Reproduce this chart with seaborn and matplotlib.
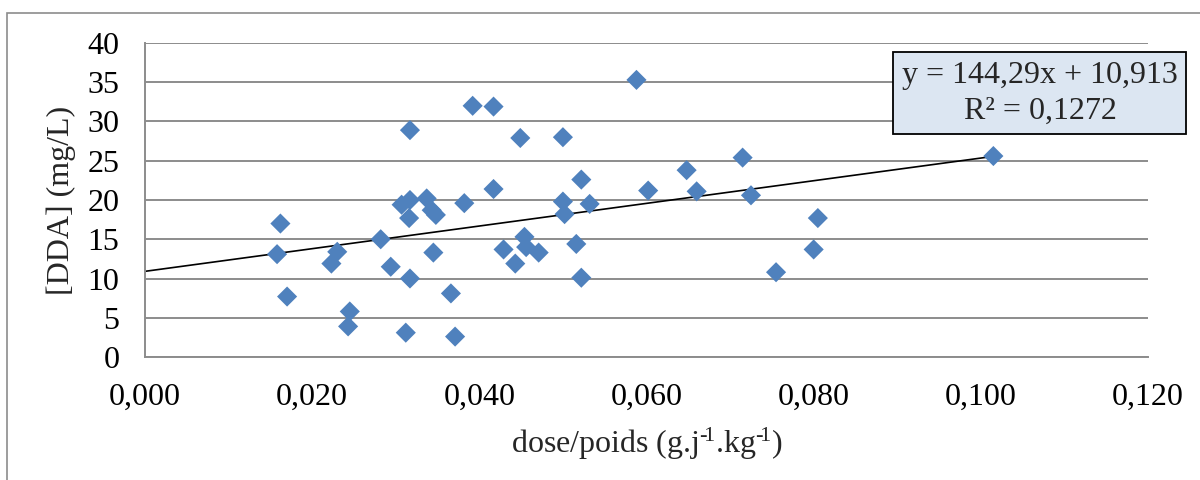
import numpy as np
import pandas as pd
import seaborn as sns
import matplotlib.pyplot as plt
from matplotlib.patches import Rectangle
from matplotlib.ticker import FuncFormatter, MultipleLocator

# values
dose = [0.0162, 0.0158, 0.0170, 0.0230, 0.0223, 0.0245, 0.0243, 0.0282,
        0.0294, 0.0317, 0.0317, 0.0307, 0.0316, 0.0317, 0.0312, 0.0337,
        0.0343, 0.0348, 0.0345, 0.0366, 0.0371, 0.0382, 0.0392, 0.0417,
        0.0417, 0.0429, 0.0443, 0.0449, 0.0454, 0.0456, 0.0471, 0.0500,
        0.0500, 0.0502, 0.0516, 0.0522, 0.0522, 0.0532, 0.0588, 0.0602,
        0.0648, 0.0660, 0.0715, 0.0725, 0.0805, 0.0800, 0.0755, 0.1015]
dda = [17.0, 13.1, 7.7, 13.4, 11.9, 5.8, 3.9, 15.0,
       11.5, 28.9, 20.0, 19.4, 17.7, 10.0, 3.1, 20.2,
       18.7, 18.1, 13.3, 8.1, 2.6, 19.6, 32.0, 31.9,
       21.4, 13.7, 11.9, 27.9, 15.3, 14.0, 13.3, 28.0,
       19.8, 18.2, 14.4, 22.6, 10.1, 19.5, 35.3, 21.2,
       23.8, 21.1, 25.4, 20.6, 17.7, 13.7, 10.8, 25.6]
slope = 144.29
intercept = 10.913
eq_text = "y = 144,29x + 10,913"
r2_text = "R² = 0,1272"

df = pd.DataFrame({"dose": dose, "dda": dda})
trend = pd.DataFrame({"dose": [0.0, max(dose)]})
trend["dda"] = slope * trend["dose"] + intercept

sns.set_style("white")
plt.rcParams["font.family"] = ["Liberation Serif", "DejaVu Serif"]
plt.rcParams["mathtext.default"] = "regular"

FS = 23
fig = plt.figure(figsize=(12, 4.8), dpi=100)
ax = fig.add_axes([145 / 1200, 1 - 357 / 480, 1003 / 1200, 314 / 480])

grid_col = "#8C8C8C"
ax.set_axisbelow(True)
ax.yaxis.grid(True, color=grid_col, linewidth=1.4)
ax.xaxis.grid(False)

sns.lineplot(data=trend, x="dose", y="dda", color="black", linewidth=1.2, ax=ax)
sns.scatterplot(data=df, x="dose", y="dda", marker="D", s=105,
                color="#4F81BD", edgecolor="none", ax=ax, zorder=3)

ax.set_xlim(0, 0.12)
ax.set_ylim(0, 40)
ax.xaxis.set_major_locator(MultipleLocator(0.02))
ax.yaxis.set_major_locator(MultipleLocator(5))
ax.xaxis.set_major_formatter(FuncFormatter(lambda v, p: f"{v:.3f}".replace(".", ",")))
ax.yaxis.set_major_formatter(FuncFormatter(lambda v, p: f"{v:.0f}"))
ax.tick_params(axis="both", length=0, labelsize=FS, colors="black")
ax.tick_params(axis="x", pad=18.5)
ax.tick_params(axis="y", pad=18.5)

for side in ["top", "right"]:
    ax.spines[side].set_visible(False)
for side in ["left", "bottom"]:
    ax.spines[side].set_color(grid_col)
    ax.spines[side].set_linewidth(1.4)

ax.set_xlabel("dose/poids (g.j$^{\u2010\\!1}$.kg$^{\u2010\\!1}$)", fontsize=FS, labelpad=10)
ax.set_ylabel("[DDA] (mg/L)", fontsize=FS, labelpad=8)

# equation box
box = Rectangle((893 / 1200, 1 - 134 / 480), 293 / 1200, 82 / 480,
                transform=fig.transFigure, facecolor="#DCE6F2",
                edgecolor="black", linewidth=1.3, zorder=5)
fig.patches.append(box)
fig.text(1040 / 1200, 1 - 75 / 480, eq_text, fontsize=FS, ha="center", va="center", zorder=6)
fig.text(1040 / 1200, 1 - 111 / 480, r2_text, fontsize=FS, ha="center", va="center", zorder=6)

# outer chart frame
frame = Rectangle((7 / 1200, -0.1), 1.2, 1.1 - 13 / 480,
                  transform=fig.transFigure, facecolor="none",
                  edgecolor="#8C8C8C", linewidth=1.2, clip_on=False)
fig.patches.append(frame)

fig.savefig("out.png", dpi=100)
